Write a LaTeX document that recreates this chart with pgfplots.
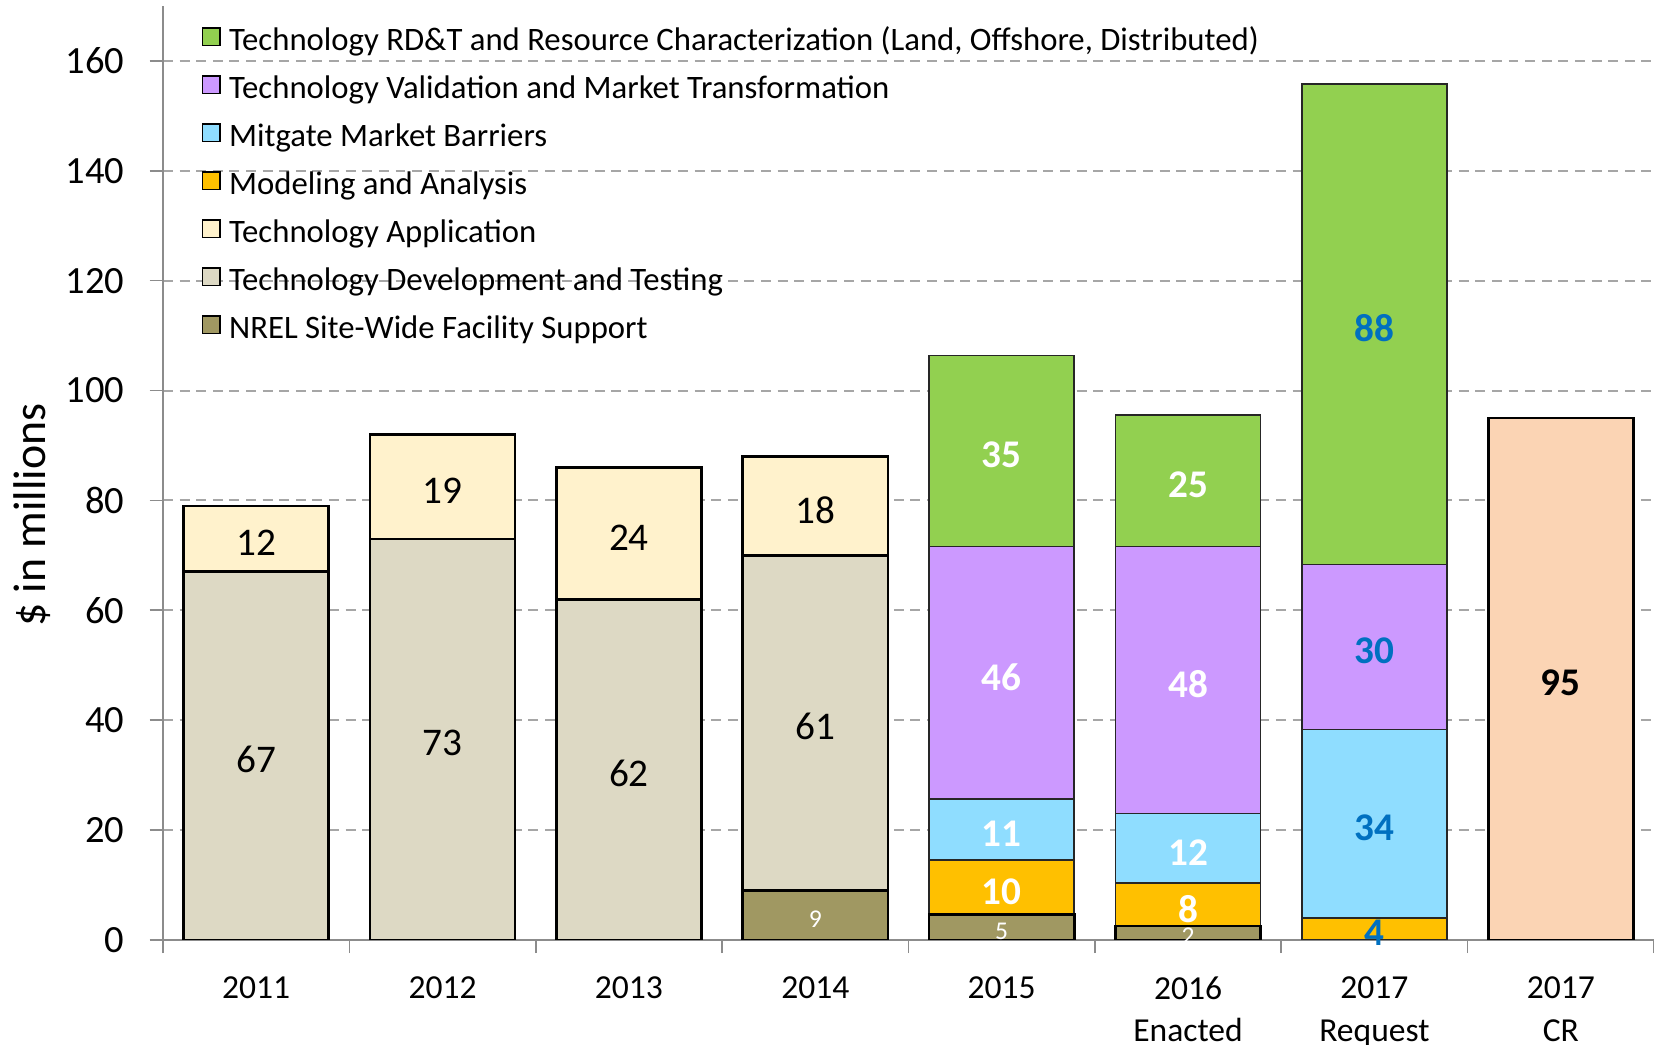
\documentclass[border=0pt]{standalone}
\usepackage{pgfplots}
\pgfplotsset{compat=1.18}
\usepackage{fontspec}
\setmainfont{Carlito}

\definecolor{cGreen}{HTML}{92D050}
\definecolor{cPurple}{HTML}{CC99FF}
\definecolor{cLBlue}{HTML}{8FDDFF}
\definecolor{cGold}{HTML}{FFC000}
\definecolor{cCream}{HTML}{FFF2CC}
\definecolor{cTan}{HTML}{DDD9C4}
\definecolor{cOlive}{HTML}{A09862}
\definecolor{cPeach}{HTML}{FBD4B4}
\definecolor{cBlueTxt}{HTML}{0070C0}
\definecolor{gridgray}{HTML}{A6A6A6}
\definecolor{axgray}{HTML}{8C8C8C}

\newcommand\fTick{\fontsize{11.6}{14}\selectfont}
\newcommand\fCat{\fontsize{10.1}{12.9}\selectfont}
\newcommand\fLeg{\fontsize{9.85}{11}\selectfont}
\newcommand\fLbl{\fontsize{11.8}{14}\selectfont}
\newcommand\fSml{\fontsize{7.7}{9}\selectfont}

\pgfplotsset{
  frame/.style={width=448.8pt, height=281.1pt, scale only axis,
    xmin=-0.5, xmax=7.5, ymin=0, ymax=170},
  lsq/.style={legend image code/.code={
    \draw[##1, draw=black, line width=0.5pt] (0pt,-0.7pt) rectangle (5.2pt,4.5pt);}},
  thick bar/.style={draw=black, line width=0.8pt},
  thin bar/.style={draw=black!85, line width=0.5pt},
}

\begin{document}
\begin{tikzpicture}
\begin{axis}[frame, name=ax,
  ybar stacked, bar width=43.7pt,
  axis x line*=bottom, axis y line*=left,
  axis line style={draw=axgray, line width=0.5pt},
  tick align=outside, major tick length=4pt,
  xtick={-0.5,0.5,1.5,2.5,3.5,4.5,5.5,6.5,7.5},
  x tick label as interval,
  xticklabels={2011,2012,2013,2014,2015,{2016\\Enacted},{2017\\Request},{2017\\CR}},
  x tick label style={font=\fCat, align=center, anchor=north, inner sep=0pt, yshift=-6.8pt},
  ytick={0,20,...,160},
  y tick label style={font=\fTick, anchor=east, inner sep=0pt, xshift=-7.4pt},
  /pgf/number format/assume math mode=true,
  tick style={draw=axgray, line width=0.5pt},
  ymajorgrids,
  major grid style={draw=gridgray, line width=0.6pt, dash pattern=on 3pt off 2pt},
  ylabel={\$ in millions},
  ylabel style={at={([xshift=-39.5pt]axis description cs:0,0.455)}, anchor=center, font=\fontsize{13.8}{16}\selectfont},
  reverse legend,
  legend cell align=left,
  legend style={at={(axis description cs:0.0259,1)}, anchor=north west, yshift=-6.4pt,
    draw=none, fill=none, inner sep=0pt, outer sep=0pt,
    row sep=4.95pt, column sep=2.6pt, font=\fLeg,
    nodes={inner sep=0pt, text height=7pt, text depth=2.5pt}},
]
% bottom to top
\addplot[fill=cOlive, thick bar, lsq] coordinates {(0,0) (1,0) (2,0) (3,9) (4,4.6) (5,2.5) (6,0) (7,0)};
\addlegendentry{NREL Site-Wide Facility Support}
\addplot[fill=cTan, thick bar, lsq] coordinates {(0,67) (1,73) (2,62) (3,61) (4,0) (5,0) (6,0) (7,0)};
\addlegendentry{Technology Development and Testing}
\addplot[fill=cCream, thick bar, lsq] coordinates {(0,12) (1,19) (2,24) (3,18) (4,0) (5,0) (6,0) (7,0)};
\addlegendentry{Technology Application}
\addplot[fill=cGold, thin bar, lsq] coordinates {(0,0) (1,0) (2,0) (3,0) (4,9.9) (5,7.8) (6,4) (7,0)};
\addlegendentry{Modeling and Analysis}
\addplot[fill=cLBlue, thin bar, lsq] coordinates {(0,0) (1,0) (2,0) (3,0) (4,11.1) (5,12.7) (6,34.3) (7,0)};
\addlegendentry{Mitgate Market Barriers}
\addplot[fill=cPurple, thin bar, lsq] coordinates {(0,0) (1,0) (2,0) (3,0) (4,46) (5,48.6) (6,30) (7,0)};
\addlegendentry{Technology Validation and Market Transformation}
\addplot[fill=cGreen, thin bar, lsq] coordinates {(0,0) (1,0) (2,0) (3,0) (4,34.8) (5,23.9) (6,87.5) (7,0)};
\addlegendentry{Technology RD\&T and Resource Characterization (Land, Offshore, Distributed)}
\addplot[fill=cPeach, thick bar, forget plot] coordinates {(0,0) (1,0) (2,0) (3,0) (4,0) (5,0) (6,0) (7,95)};
\end{axis}

% segment labels, placed at the middle of each segment
\begin{axis}[frame, hide axis,
  nodes near coords, point meta=explicit symbolic,
  every node near coord/.append style={anchor=center, inner sep=0pt, yshift=-1.2pt},
]
\addplot[draw=none, mark=none, every node near coord/.append style={font=\fLbl, text=black}]
  coordinates {(0,33.5)[67] (0,73)[12] (1,36.5)[73] (1,82.5)[19] (2,31)[62] (2,74)[24] (3,39.5)[61] (3,79)[18]};
\addplot[draw=none, mark=none, every node near coord/.append style={font=\fSml, text=white}]
  coordinates {(3,4.5)[9] (4,2.3)[5] (5,1.4)[2]};
\addplot[draw=none, mark=none, every node near coord/.append style={font=\fLbl\bfseries, text=white}]
  coordinates {(4,9.55)[10] (4,20)[11] (4,48.6)[46] (4,89)[35] (5,6.4)[8] (5,16.6)[12] (5,47.3)[48] (5,83.5)[25]};
\addplot[draw=none, mark=none, every node near coord/.append style={font=\fLbl\bfseries, text=cBlueTxt}]
  coordinates {(6,2)[4] (6,21.1)[34] (6,53.3)[30] (6,112)[88]};
\addplot[draw=none, mark=none, every node near coord/.append style={font=\fLbl\bfseries, text=black}]
  coordinates {(7,47.5)[95]};
\end{axis}

\pgfresetboundingbox
\path ([shift={(-49.05pt,-31.5pt)}]ax.south west) rectangle ([shift={(0pt,1.8pt)}]ax.north east);
\end{tikzpicture}
\end{document}
